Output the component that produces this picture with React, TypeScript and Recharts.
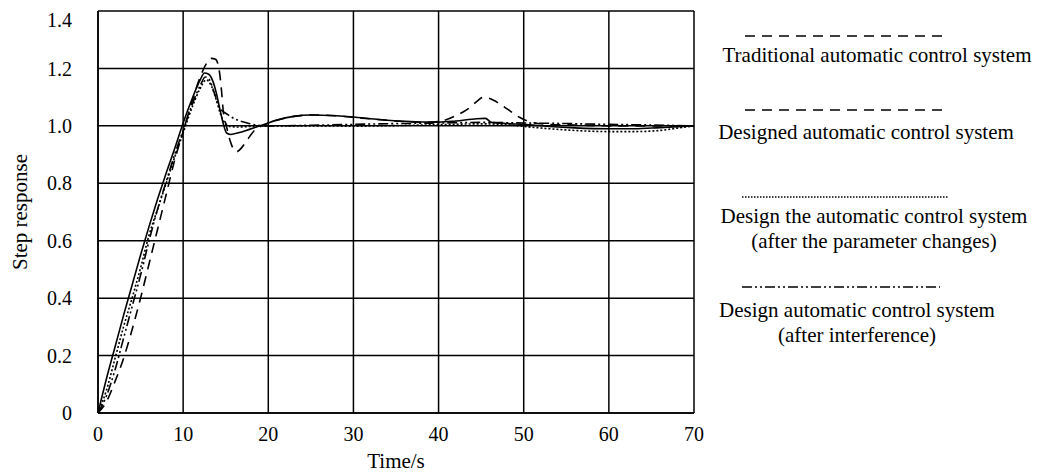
import React from 'react';
import { LineChart, Line, XAxis, YAxis, CartesianGrid } from 'recharts';

// axis ticks
const xTicks = [0, 10, 20, 30, 40, 50, 60, 70];
const yTicks = [0, 0.2, 0.4, 0.6, 0.8, 1.0, 1.2, 1.4];
const yTickLabels = ['0', '0.2', '0.4', '0.6', '0.8', '1.0', '1.2', '1.4'];

// traditional automatic control system (long dash)
const traditionalTime = [0, 1, 2, 3, 4, 5, 6, 7, 8, 9, 10, 11, 12, 12.8, 13.3, 13.8, 14.2, 14.5, 14.7, 15.1, 15.5, 15.9, 16.3, 16.9, 17.5, 18.6, 19.3, 20.5, 23, 25, 28, 31, 35, 38, 40, 42, 43.5, 44.5, 45.2, 46, 47, 48, 49.5, 51, 53, 56, 60, 65, 70];
const traditionalResponse = [0, 0.04, 0.11, 0.19, 0.29, 0.4, 0.52, 0.64, 0.76, 0.88, 0.98, 1.08, 1.17, 1.22, 1.235, 1.232, 1.2, 1.125, 1.055, 0.997, 0.95, 0.92, 0.91, 0.925, 0.95, 0.99, 1.0, 1.015, 1.033, 1.038, 1.035, 1.027, 1.017, 1.012, 1.015, 1.035, 1.06, 1.085, 1.099, 1.095, 1.08, 1.06, 1.03, 1.012, 1.005, 1.003, 1.0, 1.0, 1.0];

// designed automatic control system (solid)
const designedTime = [0, 1, 2, 3, 4, 5, 6, 7, 8, 9, 10, 11, 12, 12.5, 13, 13.5, 13.9, 14.3, 14.7, 15.1, 15.6, 16.5, 17.5, 18.5, 19.5, 21, 23, 25, 28, 32, 36, 40, 42, 44.5, 45.5, 46.2, 48, 50, 53, 56, 60, 63, 66, 70];
const designedResponse = [0, 0.12, 0.23, 0.34, 0.445, 0.55, 0.65, 0.745, 0.835, 0.92, 1.01, 1.09, 1.16, 1.184, 1.18, 1.155, 1.114, 1.06, 1.009, 0.975, 0.97, 0.976, 0.985, 0.995, 1.005, 1.02, 1.033, 1.038, 1.035, 1.025, 1.016, 1.013, 1.017, 1.025, 1.026, 1.012, 1.008, 1.005, 0.998, 0.993, 0.99, 0.99, 0.994, 1.0];

// after the parameter changes (dotted)
const paramTime = [0, 1, 2, 3, 4, 5, 6, 7, 8, 9, 10, 11, 12, 12.7, 13.3, 13.9, 14.4, 14.9, 15.5, 16.5, 18, 20, 25, 30, 35, 40, 45, 48, 50, 53, 56, 60, 63, 66, 68, 70];
const paramResponse = [0, 0.08, 0.19, 0.3, 0.4, 0.505, 0.62, 0.71, 0.8, 0.89, 0.975, 1.06, 1.13, 1.16, 1.14, 1.09, 1.04, 1.01, 0.998, 0.996, 0.998, 1.0, 1.0, 0.999, 1.001, 1.004, 1.007, 1.004, 0.998, 0.99, 0.984, 0.98, 0.98, 0.984, 0.992, 1.0];

// after interference (dash-dot-dot)
const interferenceTime = [0, 1, 2, 3, 4, 5, 6, 7, 8, 9, 10, 11, 12, 12.6, 13.1, 13.6, 14.3, 15.2, 16.3, 17.5, 18.6, 20, 25, 30, 35, 40, 45, 50, 55, 60, 65, 70];
const interferenceResponse = [0, 0.06, 0.15, 0.26, 0.37, 0.48, 0.6, 0.71, 0.805, 0.9, 0.985, 1.07, 1.14, 1.17, 1.16, 1.12, 1.062, 1.04, 1.021, 1.01, 1.003, 1.0, 1.002, 1.005, 1.008, 1.01, 1.012, 1.01, 1.008, 1.005, 1.003, 1.0];

const legendText = [
  ['Traditional automatic control system'],
  ['Designed automatic control system'],
  ['Design the automatic control system', '(after the parameter changes)'],
  ['Design automatic control system', '(after interference)'],
];

const toPoints = (time: number[], resp: number[]) => time.map((t, i) => ({ t, v: resp[i] }));

const FONT = '"Liberation Serif", "Times New Roman", serif';

const series = [
  { key: 'traditional', data: toPoints(traditionalTime, traditionalResponse), dash: '10 7' },
  { key: 'designed', data: toPoints(designedTime, designedResponse), dash: undefined },
  { key: 'param', data: toPoints(paramTime, paramResponse), dash: '2 2' },
  { key: 'interference', data: toPoints(interferenceTime, interferenceResponse), dash: '10 3 2 3 2 3' },
];

// legend sample lines + text, svg coords
const legendLayout = [
  { y: 28, x1: 737, x2: 940, dash: '10 7', cx: 869, rows: [54] },
  { y: 102, x1: 737, x2: 940, dash: '10 7', cx: 858, rows: [131] },
  { y: 189, x1: 734, x2: 940, dash: '1.5 1.5', cx: 866, rows: [215, 240] },
  { y: 279, x1: 734, x2: 932, dash: '10 3 2 3 2 3', cx: 849, rows: [309, 334] },
];

const YLabel = () => {
  const cx = 12;
  const cy = 204;
  return (
    <text x={cx} y={cy} transform={`rotate(-90 ${cx} ${cy})`} textAnchor="middle" dominantBaseline="central"
      fontFamily={FONT} fontSize={21} fill="#000">
      Step response
    </text>
  );
};

const XLabel = () => (
  <text x={388} y={460} textAnchor="middle" fontFamily={FONT} fontSize={21} fill="#000">
    Time/s
  </text>
);

export default function App() {
  return (
    <div style={{ position: 'relative', width: 1027, height: 468 }}>
      <LineChart width={1027} height={468} margin={{ top: 3, right: 341, left: 0, bottom: 0 }}>
        <CartesianGrid stroke="#000" strokeWidth={1.5} />
        <XAxis
          type="number"
          dataKey="t"
          domain={[0, 70]}
          ticks={xTicks}
          height={63}
          tickSize={0}
          tickMargin={14}
          axisLine={{ stroke: '#000', strokeWidth: 1.5 }}
          tick={{ fill: '#000', fontSize: 20, fontFamily: FONT }}
          label={{ content: XLabel }}
        />
        <YAxis
          type="number"
          domain={[0, 1.4]}
          ticks={yTicks}
          width={90}
          tickSize={0}
          tickMargin={26}
          axisLine={{ stroke: '#000', strokeWidth: 1.5 }}
          tickFormatter={(v: number) => yTickLabels[yTicks.indexOf(v)] ?? String(v)}
          tick={{ fill: '#000', fontSize: 20, fontFamily: FONT }}
          label={{ content: YLabel }}
        />
        {series.map((s) => (
          <Line
            key={s.key}
            data={s.data}
            dataKey="v"
            type="monotone"
            stroke="#000"
            strokeWidth={1.6}
            strokeDasharray={s.dash}
            dot={false}
            activeDot={false}
            isAnimationActive={false}
          />
        ))}
      </LineChart>
      <svg width={1027} height={468} style={{ position: 'absolute', left: 0, top: 0, pointerEvents: 'none' }}>
        {legendLayout.map((l, i) => (
          <g key={i}>
            <line x1={l.x1} x2={l.x2} y1={l.y} y2={l.y} stroke="#000" strokeWidth={1.5} strokeDasharray={l.dash} />
            {legendText[i].map((txt, j) => (
              <text key={j} x={l.cx} y={l.rows[j]} textAnchor="middle" fontFamily={FONT} fontSize={21} fill="#000">
                {txt}
              </text>
            ))}
          </g>
        ))}
      </svg>
    </div>
  );
}
